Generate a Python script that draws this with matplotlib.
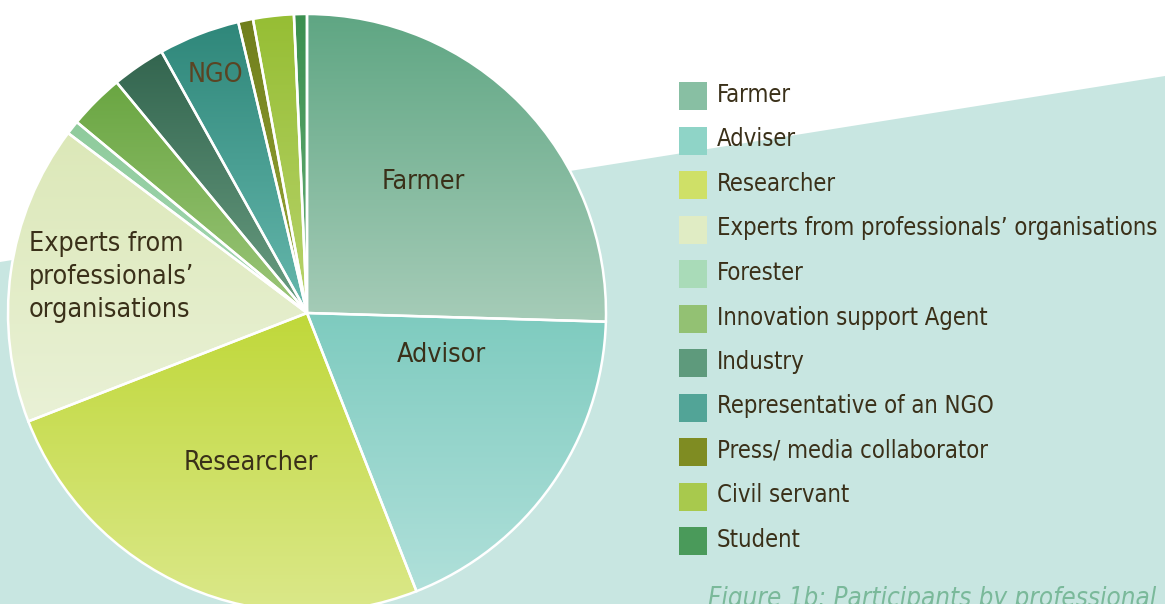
import matplotlib
matplotlib.use("Agg")
import matplotlib.pyplot as plt
from matplotlib.patches import Polygon, Rectangle
from matplotlib.colors import to_rgb
import numpy as np

# ---------------- data ----------------
legend_labels = ["Farmer", "Adviser", "Researcher",
                 "Experts from professionals\u2019 organisations", "Forester",
                 "Innovation support Agent", "Industry", "Representative of an NGO",
                 "Press/ media collaborator", "Civil servant", "Student"]
shares = [25.5, 18.6, 25.1, 16.2, 0.75, 3.0, 2.9, 4.4, 0.8, 2.2, 0.7]
legend_colors = ["#88bfa3", "#8fd4c7", "#cfe067", "#e0ecc4", "#a9dbb8", "#93c173",
                 "#5e9a7c", "#52a497", "#7f8c22", "#a8c94d", "#4a9a5a"]
grad_top = ["#5fa683", "#7ecbbf", "#c0d83a", "#dce8b8", "#8fcb9c", "#6aa642",
            "#33654f", "#2f877a", "#707e1c", "#96be34", "#3a8f4f"]
grad_bottom = ["#a6ccb8", "#b0e0da", "#dbe88a", "#e9f1d6", "#a6d8b4", "#9cc67a",
               "#6a9e82", "#66b8ad", "#9aa93a", "#b8d36c", "#6ab07a"]
caption = "Figure 1b: Participants by professional"

# ---------------- figure ----------------
W, H = 1165, 604
fig = plt.figure(figsize=(W / 100, H / 100), dpi=100)
ax = fig.add_axes([0, 0, 1, 1])
FAM = ["DejaVu Sans"]
STR = "condensed"
TXT = "#3a3019"

def Y(v):
    return H - v

# background band
ax.add_patch(Polygon([(0, Y(262)), (W, Y(76)), (W, 0), (0, 0)],
                     closed=True, facecolor="#c8e6e1", edgecolor="none", zorder=0))

# pie
cx, cy, R = 307, Y(313), 299
wedges, _ = ax.pie(shares, colors=legend_colors, startangle=90, counterclock=False,
                   center=(cx, cy), radius=R,
                   wedgeprops=dict(edgecolor="white", linewidth=1.8))
for w, ct, cb in zip(wedges, grad_top, grad_bottom):
    v = w.get_patch_transform().transform(w.get_path().vertices)
    xmin, xmax = v[:, 0].min(), v[:, 0].max()
    ymin, ymax = v[:, 1].min(), v[:, 1].max()
    t = np.linspace(0, 1, 256)[:, None]
    arr = (np.array(to_rgb(cb))[None, :] * (1 - t) + np.array(to_rgb(ct))[None, :] * t)
    im = ax.imshow(arr[:, None, :], extent=(xmin, xmax, ymin, ymax), origin="lower",
                   aspect="auto", interpolation="bilinear", zorder=1)
    im.set_clip_path(w)
    w.set_facecolor("none")
    w.set_zorder(2)

ax.set_xlim(0, W)
ax.set_ylim(0, H)
ax.set_aspect("auto")
ax.axis("off")

renderer = fig.canvas.get_renderer()

def fit(s, target, **kw):
    t = ax.text(0, 0, s, fontsize=20, **kw)
    wdt = t.get_window_extent(renderer).width
    t.remove()
    return 20 * target / wdt

# legend
lfs = fit(legend_labels[3], 443, family=FAM, fontstretch=STR)
for i, (lab, col) in enumerate(zip(legend_labels, legend_colors)):
    base = 102 + 44.5 * i
    ax.add_patch(Rectangle((679, Y(base - 20 + 28)), 28, 28, facecolor=col,
                           edgecolor="none", zorder=3))
    ax.text(717, Y(base), lab, fontsize=lfs, family=FAM, fontstretch=STR, color=TXT,
            ha="left", va="baseline", zorder=4)

# slice labels
pfs = fit("Researcher", 135, family=FAM, fontstretch=STR)
kw = dict(fontsize=pfs, family=FAM, fontstretch=STR, va="baseline", zorder=4)
ax.text(423, Y(189), "Farmer", color=TXT, ha="center", **kw)
ax.text(441, Y(362), "Advisor", color=TXT, ha="center", **kw)
ax.text(251, Y(470), "Researcher", color=TXT, ha="center", **kw)
ax.text(215, Y(82), "NGO", color="#5a4423", ha="center", **kw)
for k, line in enumerate(["Experts from", "professionals\u2019", "organisations"]):
    ax.text(29, Y(251 + 33 * k), line, color=TXT, ha="left", **kw)

# caption
cfs = fit(caption, 447, family=FAM, fontstretch=STR, style="italic")
ax.text(708, Y(606), caption, fontsize=cfs, family=FAM, fontstretch=STR, style="italic",
        color="#7ab99a", ha="left", va="baseline", zorder=4)

fig.savefig("out.png", dpi=100)
